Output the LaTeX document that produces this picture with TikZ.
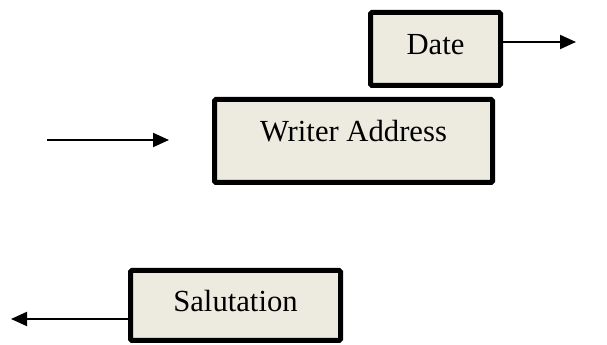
\documentclass[tikz,border=0pt]{standalone}
\usepackage{fontspec}
\setmainfont{Liberation Serif}
\usetikzlibrary{arrows.meta}
\definecolor{boxfill}{RGB}{237,235,224}

\begin{document}
\begin{tikzpicture}[x=.75pt,y=.75pt,
  part/.style={draw, line width=3.75pt, fill=boxfill, rounded corners=1pt,
    font=\fontsize{23}{27}\selectfont},
  link/.style={line width=1.5pt, -{Triangle[length=12pt,width=10.5pt]}}]
\useasboundingbox (0,0) rectangle (607,345);
% boxes (text sits a little high in each)
\node [part, minimum width=97.5pt, minimum height=54.75pt, text depth=7.5pt] (date) at (435.5,296) {Date};
\node [part, minimum width=208.5pt, minimum height=62.25pt, text depth=15pt] (writer) at (353.5,204) {Writer Address};
\node [part, minimum width=157.5pt, minimum height=52.5pt, text depth=7.5pt] (salut) at (235.5,39.5) {Salutation};
% free ends
\coordinate (datetip) at (576,303);
\coordinate (instart) at (47,205);
\coordinate (intip) at (169,205);
\coordinate (saluttip) at (11,26);
% arrows
\draw [link] (date.east |- datetip) -- (datetip);
\draw [link] (instart) -- (intip);
\draw [link] (salut.west |- saluttip) -- (saluttip);
\end{tikzpicture}
\end{document}
